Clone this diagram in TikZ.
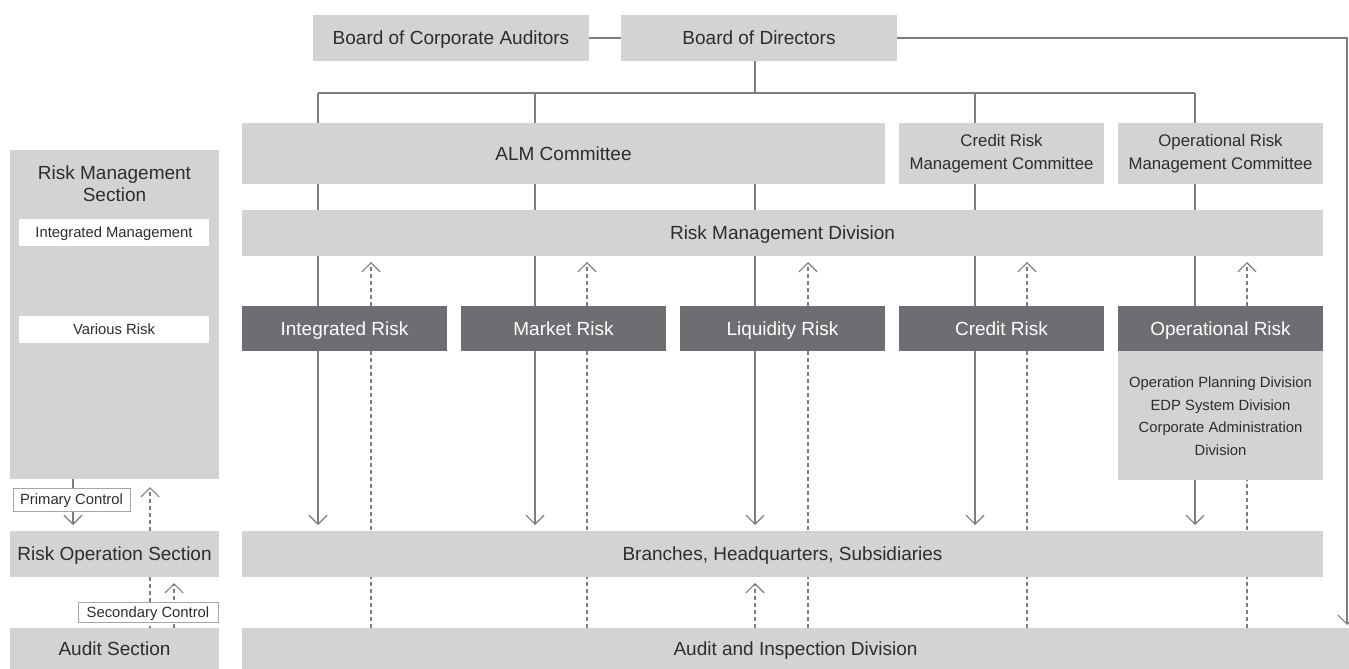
\documentclass[tikz,border=0pt]{standalone}
\usepackage{fontspec}
\setmainfont{Liberation Sans}
\usetikzlibrary{arrows.meta}
\pgfdeclarelayer{bg}
\pgfsetlayers{bg,main}
\definecolor{boxg}{RGB}{209,211,212}
\definecolor{boxd}{RGB}{109,110,113}
\definecolor{linec}{RGB}{125,125,125}
\definecolor{txt}{RGB}{45,45,45}
\definecolor{pcb}{RGB}{165,165,165}
\tikzset{
  base/.style={inner sep=0pt, outer sep=0pt, align=center, text=txt},
  mainf/.style={font=\fontsize{19}{22}\selectfont},
  oneline/.style={text height=13.6pt, text depth=0pt},
  smallone/.style={text height=10.6pt, text depth=0pt},
  gbox/.style={base, mainf, oneline, fill=boxg},
  dbox/.style={base, mainf, oneline, fill=boxd, text=white, minimum width=205pt, minimum height=45pt},
  cbox/.style={base, fill=boxg, font=\fontsize{16.8}{22.5}\selectfont, minimum width=205pt, minimum height=61pt},
  wbox/.style={base, smallone, fill=white, font=\fontsize{14.8}{18}\selectfont, minimum width=190pt, minimum height=27pt},
  lbox/.style={base, smallone, fill=white, draw=pcb, line width=0.8pt, font=\fontsize{14.8}{18}\selectfont},
  smalltxt/.style={base, font=\fontsize{14.8}{22.5}\selectfont},
  conn/.style={draw=linec, line width=1.2pt},
  arr/.style={conn, -{Straight Barb[length=9pt,width=18pt]}},
  dsh/.style={draw=linec, line width=1.1pt, dash pattern=on 4pt off 3pt},
  darr/.style={dsh, -{Straight Barb[length=9pt,width=18pt]}}
}
\begin{document}
\begin{tikzpicture}[x=1pt, y=-1pt]
\useasboundingbox (0,0) rectangle (1349,669);

% top
\node[gbox, minimum width=276pt, minimum height=46pt] (bca) at (451,38) {Board of Corporate Auditors};
\node[gbox, minimum width=276pt, minimum height=46pt] (bod) at (759,38) {Board of Directors};

% committees
\node[gbox, minimum width=643pt, minimum height=61pt] (alm) at (563.5,153.5) {ALM Committee};
\node[cbox] (crmc) at (1001.5,153.5) {Credit Risk\\Management Committee};
\node[cbox] (ormc) at (1220.5,153.5) {Operational Risk\\Management Committee};

% risk management division
\node[gbox, minimum width=1081pt, minimum height=46pt] (rmd) at (782.5,233) {Risk Management Division};

% risk boxes
\node[dbox] (ir) at (344.5,328.5) {Integrated Risk};
\node[dbox] (mr) at (563.5,328.5) {Market Risk};
\node[dbox] (lr) at (782.5,328.5) {Liquidity Risk};
\node[dbox] (cr) at (1001.5,328.5) {Credit Risk};
\node[dbox] (opr) at (1220.5,328.5) {Operational Risk};
\node[base, fill=boxg, minimum width=205pt, minimum height=129pt] (ors) at (1220.5,415.5) {};
\node[smalltxt] (orsT) at (1220.5,416) {Operation Planning Division\\EDP System Division\\Corporate Administration\\Division};

% branches and audit
\node[gbox, minimum width=1081pt, minimum height=46pt] (br) at (782.5,554) {Branches, Headquarters, Subsidiaries};
\node[gbox, minimum width=1107pt, minimum height=41pt] (au) at (795.5,648.5) {Audit and Inspection Division};

% left column
\node[base, fill=boxg, minimum width=209pt, minimum height=329pt] (rms) at (114.5,314.5) {};
\node[base, mainf] (rmsT) at (114.5,184) {Risk Management\\Section};
\node[wbox] (im) at (114,232.5) {Integrated Management};
\node[wbox] (vr) at (114,329.5) {Various Risk};
\node[lbox, minimum width=117pt, minimum height=23pt] (pc) at (71.5,499.5) {Primary Control};
\node[gbox, minimum width=209pt, minimum height=46pt] (ros) at (114.5,554) {Risk Operation Section};
\node[lbox, minimum width=140pt, minimum height=20pt] (sc) at (148,612) {Secondary Control};
\node[gbox, minimum width=209pt, minimum height=41pt] (as) at (114.5,648.5) {Audit Section};

% helper coordinates
\coordinate (bus) at (0,93);
\coordinate (bx) at (755,0);
\coordinate (rc) at (1347,38);
\coordinate (s1) at (318,0);
\coordinate (s2) at (535,0);
\coordinate (s3) at (755,0);
\coordinate (s4) at (975,0);
\coordinate (s5) at (1195,0);
\coordinate (d1) at (371,0);
\coordinate (d2) at (587,0);
\coordinate (d3) at (808,0);
\coordinate (d4) at (1027,0);
\coordinate (d5) at (1247,0);
\coordinate (lp) at (73,0);
\coordinate (lq) at (150,0);
\coordinate (lr2) at (174,0);

\begin{pgfonlayer}{bg}
% top connectors
\draw[conn] (bca.east) -- (bod.west);
\draw[arr, shorten >=3pt] (bod.east) -- (rc) -- (rc |- au.north);
\draw[conn] (bx |- bod.south) -- (bx |- bus);
\draw[conn] (s1 |- bus) -- (s5 |- bus);
\draw[conn] (s1 |- bus) -- (s1 |- alm.north);
\draw[conn] (s2 |- bus) -- (s2 |- alm.north);
\draw[conn] (s4 |- bus) -- (s4 |- crmc.north);
\draw[conn] (s5 |- bus) -- (s5 |- ormc.north);
% committees to RMD
\draw[conn] (s1 |- alm.south) -- (s1 |- rmd.north);
\draw[conn] (s2 |- alm.south) -- (s2 |- rmd.north);
\draw[conn] (s3 |- alm.south) -- (s3 |- rmd.north);
\draw[conn] (s4 |- crmc.south) -- (s4 |- rmd.north);
\draw[conn] (s5 |- ormc.south) -- (s5 |- rmd.north);
% RMD to risk boxes
\draw[conn] (s1 |- rmd.south) -- (s1 |- ir.north);
\draw[conn] (s2 |- rmd.south) -- (s2 |- mr.north);
\draw[conn] (s3 |- rmd.south) -- (s3 |- lr.north);
\draw[conn] (s4 |- rmd.south) -- (s4 |- cr.north);
\draw[conn] (s5 |- rmd.south) -- (s5 |- opr.north);
% risk boxes to branches
\draw[arr, shorten >=6pt] (s1 |- ir.south) -- (s1 |- br.north);
\draw[arr, shorten >=6pt] (s2 |- mr.south) -- (s2 |- br.north);
\draw[arr, shorten >=6pt] (s3 |- lr.south) -- (s3 |- br.north);
\draw[arr, shorten >=6pt] (s4 |- cr.south) -- (s4 |- br.north);
\draw[arr, shorten >=6pt] (s5 |- ors.south) -- (s5 |- br.north);
% dashed feedback from audit to RMD
\draw[darr, shorten >=6pt] (d1 |- au.north) -- (d1 |- rmd.south);
\draw[darr, shorten >=6pt] (d2 |- au.north) -- (d2 |- rmd.south);
\draw[darr, shorten >=6pt] (d3 |- au.north) -- (d3 |- rmd.south);
\draw[darr, shorten >=6pt] (d4 |- au.north) -- (d4 |- rmd.south);
\draw[darr, shorten >=6pt] (d5 |- au.north) -- (d5 |- rmd.south);
\draw[darr, shorten >=6pt] (bx |- au.north) -- (bx |- br.south);
% left column
\draw[arr, shorten >=6pt] (lp |- rms.south) -- (lp |- ros.north);
\draw[darr, shorten >=8pt] (lq |- ros.north) -- (lq |- rms.south);
\draw[dsh] (lq |- ros.south) -- (lq |- as.north);
\draw[darr, shorten >=6pt] (lr2 |- as.north) -- (lr2 |- ros.south);
\end{pgfonlayer}
\end{tikzpicture}
\end{document}
